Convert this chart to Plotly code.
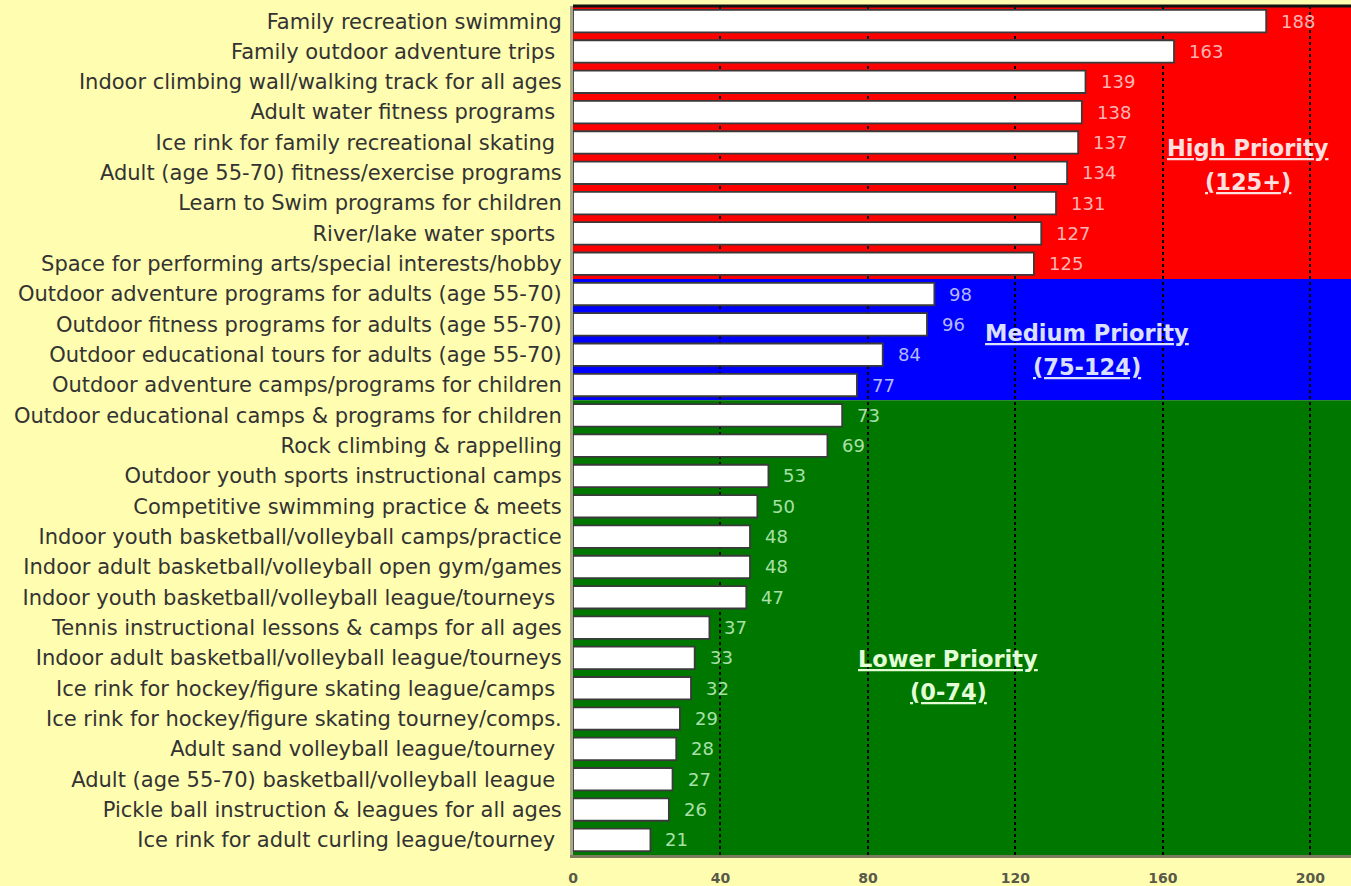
import plotly.graph_objects as go

activities = [
    "Family recreation swimming",
    "Family outdoor adventure trips ",
    "Indoor climbing wall/walking track for all ages",
    "Adult water fitness programs ",
    "Ice rink for family recreational skating ",
    "Adult (age 55-70) fitness/exercise programs",
    "Learn to Swim programs for children",
    "River/lake water sports ",
    "Space for performing arts/special interests/hobby",
    "Outdoor adventure programs for adults (age 55-70)",
    "Outdoor fitness programs for adults (age 55-70)",
    "Outdoor educational tours for adults (age 55-70)",
    "Outdoor adventure camps/programs for children",
    "Outdoor educational camps & programs for children",
    "Rock climbing & rappelling",
    "Outdoor youth sports instructional camps",
    "Competitive swimming practice & meets",
    "Indoor youth basketball/volleyball camps/practice",
    "Indoor adult basketball/volleyball open gym/games",
    "Indoor youth basketball/volleyball league/tourneys ",
    "Tennis instructional lessons & camps for all ages",
    "Indoor adult basketball/volleyball league/tourneys",
    "Ice rink for hockey/figure skating league/camps ",
    "Ice rink for hockey/figure skating tourney/comps.",
    "Adult sand volleyball league/tourney ",
    "Adult (age 55-70) basketball/volleyball league ",
    "Pickle ball instruction & leagues for all ages",
    "Ice rink for adult curling league/tourney ",
]
scores = [188, 163, 139, 138, 137, 134, 131, 127, 125, 98, 96, 84, 77,
          73, 69, 53, 50, 48, 48, 47, 37, 33, 32, 29, 28, 27, 26, 21]

x_ticks = [0, 40, 80, 120, 160, 200]

FONT = "DejaVu Sans"

# Priority tiers: rows, band colour, value colour, title colour, titles, title position
tiers = [
    (0, 8, "#ff0000", "#ffb4b4", "#ffe0e0", "High Priority", "(125+)", 183.0, 4.17),
    (9, 12, "#0000ff", "#b4b8ff", "#dce0ff", "Medium Priority", "(75-124)", 139.5, 10.3),
    (13, 27, "#007800", "#a8e0a8", "#e4ffd8", "Lower Priority", "(0-74)", 101.8, 21.02),
]

rows = list(range(len(activities)))

fig = go.Figure()
fig.add_trace(go.Bar(
    x=scores,
    y=rows,
    orientation="h",
    width=0.74,
    marker=dict(color="white", line=dict(color="#3a3a3a", width=1.8)),
    hoverinfo="skip",
))

shapes = []
annotations = []
for first, last, band, val_col, title_col, title, rng, tx, ty in tiers:
    shapes.append(dict(
        type="rect", xref="paper", yref="y", x0=0, x1=1,
        y0=first - 0.5, y1=last + 0.5, fillcolor=band,
        line=dict(width=0), layer="below",
    ))
    for i in range(first, last + 1):
        annotations.append(dict(
            x=scores[i], y=i, xref="x", yref="y", text=str(scores[i]),
            showarrow=False, xanchor="left", xshift=13,
            font=dict(family=FONT, size=18, color=val_col),
        ))
    annotations.append(dict(
        x=tx, y=ty, xref="x", yref="y", text=f"<u><b>{title}</b></u>",
        showarrow=False, font=dict(family=FONT, size=22.5, color=title_col),
    ))
    annotations.append(dict(
        x=tx, y=ty + 1.12, xref="x", yref="y", text=f"<u><b>{rng}</b></u>",
        showarrow=False, font=dict(family=FONT, size=22.5, color=title_col),
    ))

# dark rule along the top of the plot area
shapes.append(dict(
    type="line", xref="paper", yref="paper", x0=0, x1=1, y0=1, y1=1,
    line=dict(color="#111111", width=3), layer="above",
))

fig.update_layout(
    width=1351, height=886,
    margin=dict(l=573, r=0, t=6, b=31),
    paper_bgcolor="#fffdb0",
    plot_bgcolor="#fffdb0",
    showlegend=False,
    shapes=shapes,
    annotations=annotations,
    xaxis=dict(
        range=[0, 211],
        tickvals=x_ticks,
        ticktext=[f"<b>{v}</b>" for v in x_ticks],
        showgrid=True, gridcolor="#000000", griddash="dot", gridwidth=1.5,
        zeroline=False,
        showline=True, linecolor="#7c7c5c", linewidth=3,
        ticks="", tickfont=dict(family=FONT, size=14, color="#5a5a48"),
        ticklabelstandoff=8,
    ),
    yaxis=dict(
        range=[27.5, -0.5],
        tickvals=rows,
        ticktext=activities,
        showgrid=False, zeroline=False,
        showline=True, linecolor="#a8a888", linewidth=3,
        ticks="", tickfont=dict(family=FONT, size=21, color="#333333"),
        ticklabelstandoff=4,
    ),
)

fig.write_html("out.html")
